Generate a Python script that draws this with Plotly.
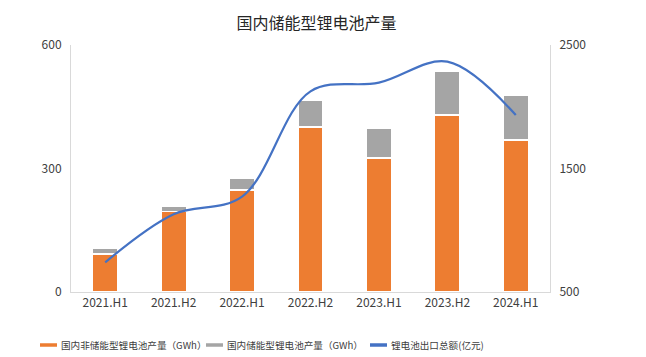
import plotly.graph_objects as go

categories = ["2021.H1", "2021.H2", "2022.H1", "2022.H2", "2023.H1", "2023.H2", "2024.H1"]
non_storage = [92, 195, 248, 401, 325, 430, 369]
storage = [14, 14, 28, 66, 73, 107, 108]
export_value = [740, 1130, 1272, 2125, 2195, 2365, 1933]

name_non = "国内非储能型锂电池产量（GWh）"
name_sto = "国内储能型锂电池产量（GWh）"
name_exp = "锂电池出口总额(亿元)"

C_OR, C_GR, C_BL = "#ED7D31", "#A5A5A5", "#4472C4"
FONT = "Noto Sans CJK SC"
W, H = 646, 357
ML, MR, MT, MB = 71, 96, 45, 65

fig = go.Figure()
fig.add_trace(go.Bar(
    x=categories, y=non_storage, name=name_non, showlegend=False,
    marker=dict(color=C_OR, line=dict(color="white", width=1.5)),
))
fig.add_trace(go.Bar(
    x=categories, y=storage, name=name_sto, showlegend=False,
    marker=dict(color=C_GR, line=dict(color="white", width=1.5)),
))
fig.add_trace(go.Scatter(
    x=categories, y=export_value, name=name_exp, yaxis="y2", showlegend=False,
    mode="lines", line=dict(color=C_BL, width=2.2, shape="spline", smoothing=1.0),
))

# manual legend (short line swatches as in the reference)
pw, ph = W - ML - MR, H - MT - MB
def px2paper_x(px):
    return (px - ML) / pw
def px2paper_y(py):
    return (H - MB - py) / ph

legend_items = [(name_non, C_OR, 40), (name_sto, C_GR, 206), (name_exp, C_BL, 370)]
legend_y = 345
for nm, col, x0 in legend_items:
    fig.add_shape(type="line", xref="paper", yref="paper",
                  x0=px2paper_x(x0), x1=px2paper_x(x0 + 17),
                  y0=px2paper_y(legend_y), y1=px2paper_y(legend_y),
                  line=dict(color=col, width=3.5))
    fig.add_annotation(text=nm, xref="paper", yref="paper", x=px2paper_x(x0 + 19),
                       y=px2paper_y(legend_y), xanchor="left", yanchor="middle",
                       showarrow=False, font=dict(size=9.6, color="#404040", family=FONT))

fig.update_layout(
    width=W, height=H,
    paper_bgcolor="white", plot_bgcolor="white",
    margin=dict(l=ML, r=MR, t=MT, b=MB, autoexpand=False),
    barmode="stack", bargap=0.63,
    font=dict(family=FONT, color="#404040", size=12),
    title=dict(text="国内储能型锂电池产量", x=0.49, xanchor="center", y=0.935, yanchor="middle",
               yref="container", xref="container",
               font=dict(size=16, color="#262626", family=FONT)),
    xaxis=dict(showline=True, linecolor="#D9D9D9", linewidth=1, ticks="", showgrid=False,
               automargin=False, tickfont=dict(size=12, color="#404040")),
    yaxis=dict(range=[0, 600], tickvals=[0, 300, 600], showgrid=False, zeroline=False,
               automargin=False,
               showline=True, linecolor="#D9D9D9", ticks="", ticklabelstandoff=6,
               tickfont=dict(size=12, color="#404040")),
    yaxis2=dict(range=[500, 2500], tickvals=[500, 1500, 2500], overlaying="y", side="right",
                automargin=False,
                showgrid=False, zeroline=False, showline=True, linecolor="#D9D9D9", ticks="",
                ticklabelstandoff=6, tickfont=dict(size=12, color="#404040")),
    showlegend=False,
)

fig.write_html("out.html", config={"displayModeBar": False},
               post_script="document.body.style.margin='0';document.body.style.overflow='hidden';")
